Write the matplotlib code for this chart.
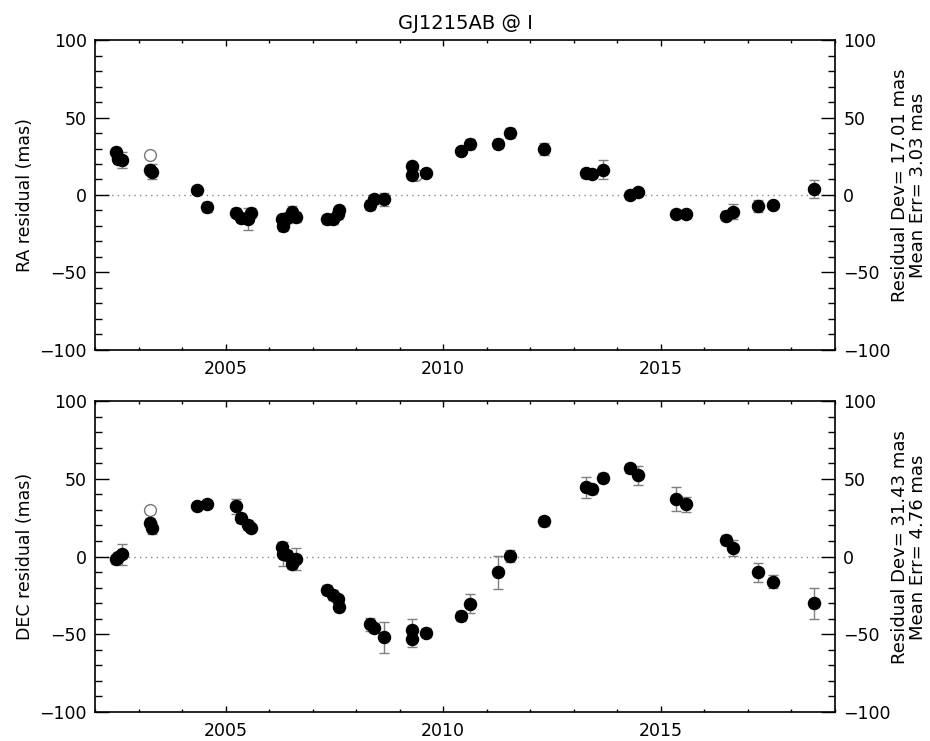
import numpy as np
import matplotlib
matplotlib.use("Agg")
import matplotlib.pyplot as plt
from matplotlib.ticker import MultipleLocator

plt.rcParams['font.family'] = ['DejaVu Sans']

# epochs (decimal year) shared by both panels
epoch = [2002.48, 2002.53, 2002.61, 2003.27, 2003.32, 2004.34, 2004.58,
         2005.24, 2005.36, 2005.51, 2005.58, 2006.30, 2006.32, 2006.40,
         2006.53, 2006.61, 2007.34, 2007.46, 2007.59, 2007.61, 2008.32,
         2008.40, 2008.65, 2009.28, 2009.29, 2009.60, 2010.41, 2010.61,
         2011.25, 2011.53, 2012.31, 2013.29, 2013.42, 2013.68, 2014.29,
         2014.48, 2015.34, 2015.58, 2016.49, 2016.66, 2017.24, 2017.58,
         2018.52]

ra_res = [27.5, 23.5, 22.6, 16.1, 15.0, 3.0, -7.7,
          -11.4, -14.6, -15.7, -11.4, -15.7, -20.0, -15.0,
          -10.8, -14.2, -15.7, -15.7, -12.5, -9.9, -6.5,
          -2.8, -2.8, 18.7, 12.9, 14.4, 28.4, 32.9,
          33.1, 40.0, 29.5, 14.0, 13.3, 16.3, 0.2,
          2.1, -12.0, -12.5, -13.3, -10.8, -7.1, -6.7,
          3.7]
ra_err = [3, 3, 5, 3, 5, 2, 3,
          3, 3, 7, 3, 3, 3, 3,
          4, 3, 3, 3, 3, 3, 3,
          3, 4, 2, 2, 2, 2, 3,
          3, 3, 4, 3, 2, 6, 2,
          2, 2, 2, 3, 5, 4, 2,
          5.7]

dec_res = [-1.8, 0.0, 1.4, 21.7, 18.5, 32.3, 33.6,
           32.3, 24.6, 20.3, 18.5, 6.1, 1.6, 1.0,
           -4.8, -1.6, -21.5, -24.8, -27.5, -32.3, -43.6,
           -45.8, -52.0, -47.0, -53.0, -49.0, -38.3, -30.3,
           -10.2, 0.5, 22.6, 44.5, 43.2, 50.7, 56.7,
           52.2, 37.0, 33.6, 10.6, 5.5, -10.2, -16.2,
           -30.1]
dec_err = [3, 3, 6.8, 3, 4, 2, 2,
           5, 3, 3, 2, 3, 8, 3,
           3, 7, 3, 3, 3, 3, 4,
           3, 10, 7, 5, 3, 3, 6,
           10.7, 4, 3, 6.8, 3, 3, 3,
           6, 8, 5, 3, 5, 6, 4,
           10]

# rejected points (open circles)
ra_rej_t = [2003.26, 2009.37]
ra_rej = [25.6, 12.9]
dec_rej_t = [2003.26]
dec_rej = [29.9]

ylabels = ["RA residual (mas)", "DEC residual (mas)"]
stats = ["Residual Dev= 17.01 mas\nMean Err= 3.03 mas",
         "Residual Dev= 31.43 mas\nMean Err= 4.76 mas"]

fig = plt.figure(figsize=(9.3, 7.41), dpi=100)
ax1 = fig.add_axes([0.1022, 0.5277, 0.7956, 0.4183])
ax2 = fig.add_axes([0.1022, 0.0391, 0.7956, 0.4197])

panels = [(ax1, ra_res, ra_err, ra_rej_t, ra_rej),
          (ax2, dec_res, dec_err, dec_rej_t, dec_rej)]

for i, (ax, res, err, rt, rv) in enumerate(panels):
    ax.axhline(0, color='#888888', ls=(0, (1, 3)), lw=1, zorder=1)
    ax.errorbar(epoch, res, yerr=err, fmt='none', ecolor='#7f7f7f',
                elinewidth=1, capsize=3.5, capthick=1, zorder=2)
    ax.plot(rt, rv, 'o', mfc='white', mec='#777777', mew=1, ms=8.5, zorder=3)
    ax.plot(epoch, res, 'o', color='black', ms=8.7, zorder=4)
    ax.set_xlim(2002, 2019)
    ax.set_ylim(-100, 100)
    ax.xaxis.set_major_locator(MultipleLocator(5))
    ax.xaxis.set_minor_locator(MultipleLocator(1))
    ax.yaxis.set_major_locator(MultipleLocator(50))
    ax.yaxis.set_minor_locator(MultipleLocator(10))
    ax.tick_params(axis='x', which='major', direction='in', length=4.3,
                   width=1, top=True, labelsize=12.5, pad=7)
    ax.tick_params(axis='x', which='minor', direction='in', length=2.2,
                   width=1, top=True)
    ax.tick_params(axis='y', which='major', direction='in', length=10,
                   width=1, right=True, labelright=True, labelsize=12.5, pad=6)
    ax.tick_params(axis='y', which='minor', direction='in', length=5,
                   width=1, right=True)
    for s in ax.spines.values():
        s.set_linewidth(1.2)
    ax.set_ylabel(ylabels[i], fontsize=12.5, labelpad=4)
    ax.text(1.1, 0.53, stats[i], transform=ax.transAxes, rotation=90,
            ha='center', va='center', multialignment='center',
            fontsize=13, linespacing=1.05)

ax1.set_title("GJ1215AB @ I", fontsize=14, pad=8)

fig.savefig("out.png", dpi=100)
